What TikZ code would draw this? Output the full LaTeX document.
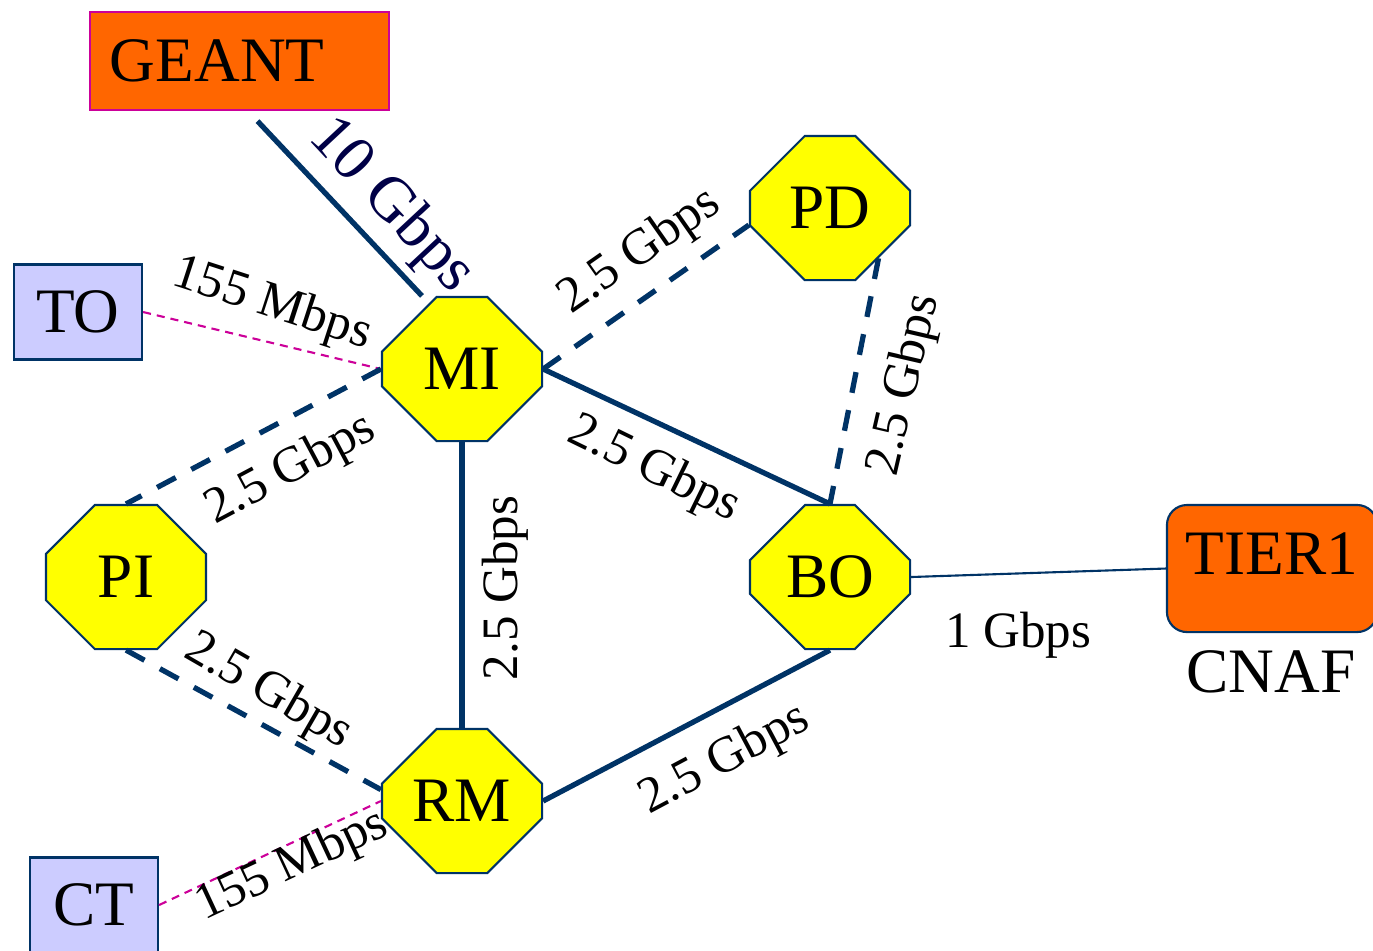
\documentclass[tikz,border=0pt]{standalone}
\usepackage{fontspec}
\setmainfont{Liberation Serif}
\usetikzlibrary{shapes.misc}
\definecolor{linkblue}{RGB}{0,51,102}
\definecolor{octyellow}{RGB}{255,255,0}
\definecolor{geantorange}{RGB}{255,102,0}
\definecolor{sitelilac}{RGB}{204,204,255}
\definecolor{slowpink}{RGB}{204,0,153}
\definecolor{gbpsnavy}{RGB}{0,0,70}
\begin{document}
\begin{tikzpicture}[x=0.01cm,y=-0.01cm]
\tikzstyle{namefont}=[font=\fontsize{18}{20}\selectfont]
\tikzstyle{popnode}=[chamfered rectangle, chamfered rectangle xsep=0.34cm, chamfered rectangle ysep=0.34cm, draw=linkblue, line width=0.6pt, fill=octyellow, minimum width=1.6cm, minimum height=1.44cm, inner sep=0pt, namefont]
\tikzstyle{sitebox}=[rectangle, draw=linkblue, line width=0.6pt, fill=sitelilac, minimum width=1.28cm, minimum height=0.95cm, inner sep=0pt, namefont]
\tikzstyle{ratelabel}=[inner sep=0pt, font=\fontsize{14.5}{16}\selectfont]
\tikzstyle{fastlink}=[draw=linkblue, line width=1.5pt]
\tikzstyle{fastdash}=[fastlink, dash pattern=on 6pt off 5pt]
\tikzstyle{slowlink}=[draw=slowpink, line width=0.6pt, dash pattern=on 2.3pt off 1.7pt]
\tikzstyle{thinlink}=[draw=linkblue, line width=0.6pt]
\clip (0,0) rectangle (1373,950);
\node[rectangle, draw=slowpink, line width=0.6pt, fill=geantorange, minimum height=0.98cm, text width=2.59cm, align=left, inner xsep=0.2cm, inner ysep=0pt, namefont] (geant) at (239.5,61) {GEANT};
\node[rectangle, rounded corners=0.2cm, draw=linkblue, line width=0.6pt, fill=geantorange, minimum width=2.1cm, minimum height=1.27cm, inner sep=0pt, text depth=0.29cm, namefont] (tier1) at (1272,568.5) {TIER1};
\node[namefont, inner sep=0pt] (cnaf) at (1271,672) {CNAF};
\node[sitebox] (to) at (78,312) {TO};
\node[sitebox] (ct) at (94,905) {CT};
\node[popnode] (mi) at (462,369) {MI};
\node[popnode] (pd) at (830,208) {PD};
\node[popnode] (pi) at (126,577) {PI};
\node[popnode] (bo) at (830,577) {BO};
\node[popnode] (rm) at (462,801) {RM};
\draw[fastlink] ([xshift=0.18cm,yshift=-0.1cm]geant.south) -- ([xshift=-0.4cm]mi.north);
\draw[slowlink] (to.east) -- (mi.west);
\draw[fastdash] (mi.west) -- (pi.north);
\draw[fastdash] (mi.east) -- ([yshift=-0.17cm]pd.west);
\draw[fastlink] (mi.east) -- (bo.north);
\draw[fastlink] (mi.south) -- (rm.north);
\draw[fastdash] (pd.-46) -- (bo.north);
\draw[thinlink] (bo.east) -- (tier1.west);
\draw[fastlink] (bo.south) -- (rm.east);
\draw[fastdash] (pi.south) -- (rm.172);
\draw[slowlink] (ct.east) -- (rm.west);
\node[ratelabel, text=gbpsnavy, font=\fontsize{18}{20}\selectfont, rotate=-47] (geantrate) at (391,206) {10 Gbps};
\node[ratelabel, rotate=-18] (torate) at (272,305) {155 Mbps};
\node[ratelabel, rotate=35] (pdrate) at (640,252) {2.5 Gbps};
\node[ratelabel, rotate=28] (pirate) at (291,470) {2.5 Gbps};
\node[ratelabel, rotate=-26] (borate) at (654,470) {2.5 Gbps};
\node[ratelabel, rotate=90] (rmrate) at (505,588) {2.5 Gbps};
\node[ratelabel, rotate=77] (pdborate) at (905,385) {2.5 Gbps};
\node[ratelabel, rotate=-30] (pirmrate) at (268,692) {2.5 Gbps};
\node[ratelabel, rotate=28] (bormrate) at (725,760) {2.5 Gbps};
\node[ratelabel] (tierrate) at (1018,635) {1 Gbps};
\node[ratelabel, rotate=25] (ctrate) at (292,866) {155 Mbps};
\end{tikzpicture}
\end{document}
